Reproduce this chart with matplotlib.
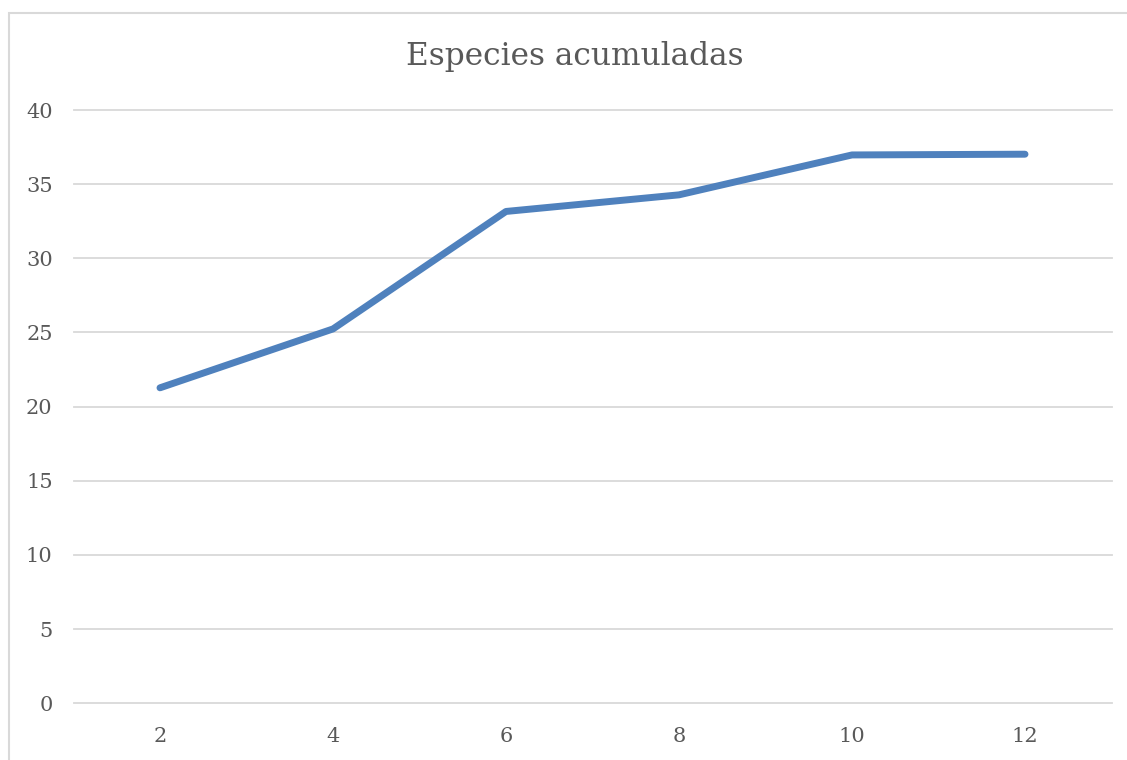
import matplotlib.pyplot as plt
from matplotlib.patches import Rectangle

# datos
categorias = ['2', '4', '6', '8', '10', '12']
especies = [21.27, 25.24, 33.16, 34.28, 36.97, 37.02]
yticks = [0, 5, 10, 15, 20, 25, 30, 35, 40]

gris = '#595959'
plt.rcParams['font.family'] = ['DejaVu Serif']

fig = plt.figure(figsize=(11.27, 7.6), dpi=100)
# borde del grafico (recortado a la derecha y abajo)
fig.patches.append(Rectangle((8.5 / 1127, -0.05), 1.1, 1 - 13 / 760 + 0.05,
                             transform=fig.transFigure, fill=False,
                             edgecolor='#D9D9D9', linewidth=1.5))

ax = fig.add_axes([73.5 / 1127, 1 - 703.3 / 760, 1038 / 1127, (703.3 - 110) / 760])
x = list(range(len(categorias)))
ax.plot(x, especies, color='#4F81BD', linewidth=5, solid_capstyle='round',
        solid_joinstyle='round', zorder=3)

ax.set_xlim(-0.5, len(categorias) - 0.5)
ax.set_ylim(0, 40)
ax.set_xticks(x)
ax.set_xticklabels(categorias)
ax.set_yticks(yticks)
ax.grid(axis='y', color='#D9D9D9', linewidth=1.3)
for g in ax.get_ygridlines():
    g.set_clip_on(False)
ax.set_axisbelow(True)
for s in ax.spines.values():
    s.set_visible(False)
ax.tick_params(length=0, labelsize=15, colors=gris)
ax.tick_params(axis='y', pad=15)
ax.tick_params(axis='x', pad=17)

fig.text(575 / 1127, 1 - 57 / 760, 'Especies acumuladas', ha='center', va='center',
         fontsize=22.5, color=gris)

fig.savefig('out.png', dpi=100)
